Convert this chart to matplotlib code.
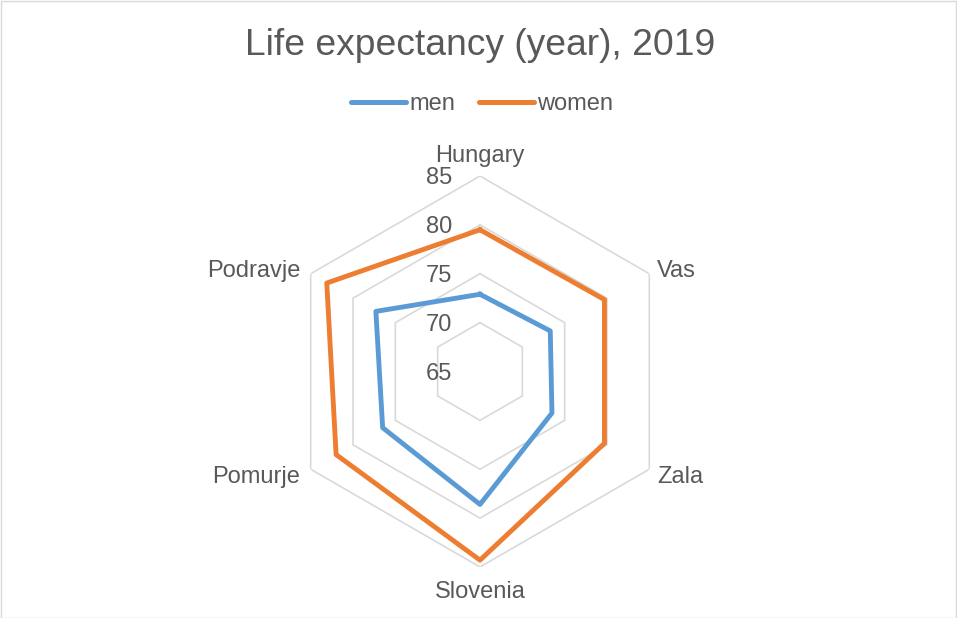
import numpy as np
import matplotlib
matplotlib.use("Agg")
import matplotlib.pyplot as plt
from matplotlib.patches import Rectangle
from matplotlib.lines import Line2D

# Life expectancy by region, 2019
regions = ["Hungary", "Vas", "Zala", "Slovenia", "Pomurje", "Podravje"]
men = [72.9, 73.3, 73.5, 78.6, 76.5, 77.3]
women = [79.5, 79.7, 79.7, 84.3, 82.0, 83.1]
ring_values = [65, 70, 75, 80, 85]
ring_labels = ["65", "70", "75", "80", "85"]

TEXT = "#595959"
GRID = "#D9D9D9"
BLUE = "#5B9BD5"
ORANGE = "#ED7D31"
FS = 17

W, H = 957, 618
fig = plt.figure(figsize=(W / 100, H / 100), dpi=100)
fig.patch.set_facecolor("white")
plt.rcParams["font.family"] = ["Liberation Sans", "DejaVu Sans"]

cx, cy, R = 480, 371.5, 195.5
ax = fig.add_axes([(cx - R) / W, (H - cy - R) / H, 2 * R / W, 2 * R / H],
                  projection="polar")
ax.set_theta_offset(np.pi / 2)
ax.set_theta_direction(-1)
ax.set_rlim(ring_values[0], ring_values[-1])
ax.grid(False)
ax.spines["polar"].set_visible(False)
ax.set_xticks([])
ax.set_yticks([])
ax.patch.set_alpha(0)

n = len(regions)
angles = np.arange(n) * 2 * np.pi / n
closed = np.append(angles, angles[0])

# hexagonal gridlines
for v in ring_values[1:]:
    ax.plot(closed, [v] * (n + 1), color=GRID, lw=1.2, zorder=1)

def close(vals):
    return list(vals) + [vals[0]]

ax.plot(closed, close(men), color=BLUE, lw=3.5, solid_joinstyle="round", zorder=3)
ax.plot(closed, close(women), color=ORANGE, lw=3.5, solid_joinstyle="round", zorder=3)

# value labels along the top spoke
for v, lab in zip(ring_values, ring_labels):
    ax.annotate(lab, xy=(0, v), xytext=(-28, -8), textcoords="offset pixels",
                ha="right", va="baseline", fontsize=FS, color=TEXT,
                annotation_clip=False)

# category labels around the outside
label_style = {
    "Hungary": ((0, 14.5), "center"),
    "Vas": ((8, -3.5), "left"),
    "Zala": ((8, -14), "left"),
    "Slovenia": ((0, -30.5), "center"),
    "Pomurje": ((-10.5, -14), "right"),
    "Podravje": ((-10.5, -3.5), "right"),
}
rmax = ring_values[-1]
for a, name in zip(angles, regions):
    off, ha = label_style[name]
    ax.annotate(name, xy=(a, rmax), xytext=off, textcoords="offset pixels",
                ha=ha, va="baseline", fontsize=FS, color=TEXT,
                annotation_clip=False)

fig.text(cx / W, 1 - 55 / H, "Life expectancy (year), 2019", ha="center",
         va="baseline", fontsize=26.8, color=TEXT)

handles = [Line2D([], [], color=BLUE, lw=3.6, solid_capstyle="round"),
           Line2D([], [], color=ORANGE, lw=3.6, solid_capstyle="round")]
leg = fig.legend(handles, ["men", "women"], loc="center", ncol=2,
                 bbox_to_anchor=(482 / W, 1 - 104.5 / H), frameon=False,
                 fontsize=FS, handlelength=2.33, handletextpad=0.14,
                 columnspacing=1.02, borderpad=0)
for t in leg.get_texts():
    t.set_color(TEXT)

fig.patches.append(Rectangle((0.5 / W, 0.5 / H), 1 - 1.5 / W, 1 - 1.5 / H,
                             transform=fig.transFigure, fill=False,
                             edgecolor=GRID, lw=1))

fig.savefig("out.png", dpi=100)
